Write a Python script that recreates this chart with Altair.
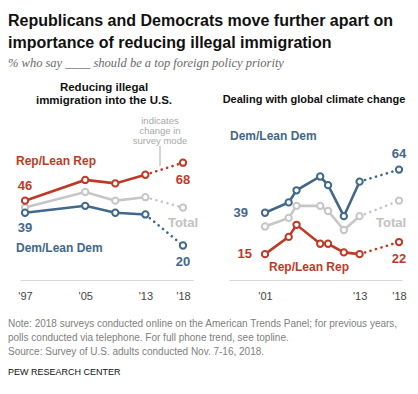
import altair as alt
import pandas as pd

# ---------------- data ----------------
imm_years = [1997, 2005, 2009, 2013, 2018]
imm_rep = [46, 58, 56, 61, 68]
imm_total = [42, 51, 46, 48, 42]
imm_dem = [39, 43, 39, 38, 20]

clim_years = [2001, 2004, 2005, 2008, 2009, 2011, 2013, 2018]
clim_rep = [15, 25, 32, 21, 21, 16, 15, 22]
clim_total = [31, 36, 43, 43, 40, 29, 37, 46]
clim_dem = [39, 45, 52, 60, 55, 37, 57, 64]

series_names = ["Total", "Dem", "Rep"]
series_colors = ["#C6C6C6", "#41688A", "#BF3A26"]
series_labels = ["Total", "Dem/Lean Dem", "Rep/Lean Rep"]

imm_ticks = [1997, 2005, 2013, 2018]
clim_ticks = [2001, 2013, 2018]

title_text = "Republicans and Democrats move further apart on\nimportance of reducing illegal immigration"
subtitle_text = "% who say ____ should be a top foreign policy priority"
left_title = "Reducing illegal\nimmigration into the U.S."
right_title = "Dealing with global climate change"
mode_note = "indicates\nchange in\nsurvey mode"
note_text = ("Note: 2018 surveys conducted online on the American Trends Panel; for previous years,\n"
             "polls conducted via telephone. For full phone trend, see topline.\n"
             "Source: Survey of U.S. adults conducted Nov. 7-16, 2018.")
source_label = "PEW RESEARCH CENTER"

FONT = "Liberation Sans"
W, H = 173, 138
RED, BLUE, GREY = series_colors[2], series_colors[1], series_colors[0]


def long_df(years, total, dem, rep):
    rows = []
    for name, vals in zip(series_names, [total, dem, rep]):
        for yr, v in zip(years, vals):
            rows.append({"year": yr, "series": name, "value": v})
    return pd.DataFrame(rows)


one = pd.DataFrame({"k": [0]})


def free_text(text, x, y, size, color="#222", weight="normal", align="left",
              font=FONT, style="normal", line_height=None, baseline="alphabetic"):
    kw = dict(text=text, align=align, baseline=baseline, fontSize=size, font=font,
              fontWeight=weight, fontStyle=style, color=color, lineBreak="\n")
    if line_height:
        kw["lineHeight"] = line_height
    return alt.Chart(one).mark_text(**kw).encode(x=alt.value(x), y=alt.value(y))


def panel(df, domain, ticks):
    cscale = alt.Scale(domain=series_names, range=series_colors)
    x = alt.X("year:Q", scale=alt.Scale(domain=domain, nice=False, zero=False),
              axis=alt.Axis(values=ticks, labelExpr="\"'\" + slice(toString(datum.value), 2)",
                            grid=False, ticks=False, tickSize=0, domainColor="#d6d6d6",
                            labelColor="#444", labelFont=FONT, labelFontSize=11,
                            labelPadding=10, title=None, labelFlush=False))
    y = alt.Y("value:Q", scale=alt.Scale(domain=[0, 80]), axis=None)
    base = alt.Chart(df).encode(x=x, y=y)
    color = alt.Color("series:N", scale=cscale, legend=None)
    solid = base.transform_filter("datum.year <= 2013").mark_line(strokeWidth=2.6).encode(color=color)
    dotted = base.transform_filter("datum.year >= 2013").mark_line(
        strokeWidth=2.6, strokeDash=[0.1, 5.6], strokeCap="round").encode(color=color)
    pts = base.mark_point(shape="circle", filled=True, fill="white", size=40, strokeWidth=2,
                          opacity=1).encode(stroke=alt.Stroke("series:N", scale=cscale, legend=None))
    return base, [solid, dotted, pts]


def val_label(base, series, year, color, dx=0, dy=0, align="center", text=None):
    m = base.transform_filter(f"datum.series == '{series}' && datum.year == {year}").mark_text(
        dx=dx, dy=dy, align=align, baseline="middle", font=FONT, fontSize=13,
        fontWeight="bold", color=color)
    if text is None:
        return m.encode(text="value:Q")
    return m.encode(text=alt.value(text))


# ---------------- left panel ----------------
dfL = long_df(imm_years, imm_total, imm_dem, imm_rep)
baseL, layersL = panel(dfL, [1996.33, 2019.33], imm_ticks)
layersL += [
    val_label(baseL, "Rep", 1997, RED, dy=-15),
    val_label(baseL, "Dem", 1997, BLUE, dy=15),
    val_label(baseL, "Rep", 2018, RED, dy=17),
    val_label(baseL, "Dem", 2018, BLUE, dy=16),
    val_label(baseL, "Total", 2018, "#C2C2C2", dy=15, text=series_labels[0]),
    free_text(series_labels[2], -4, 23, 12, RED, "bold"),
    free_text(series_labels[1], -4, 110, 12, BLUE, "bold"),
    free_text(left_title, 84, -51, 11.5, "#111", "bold", align="center", line_height=12.5),
    free_text(mode_note, 140, -18, 9.5, "#A8A8A8", align="center", line_height=10),
    alt.Chart(one).mark_rule(color="#A8A8A8", strokeWidth=1).encode(
        x=alt.value(140), y=alt.value(4), y2=alt.value(24)),
    free_text(title_text, -12, -116, 16, "#111", "bold", line_height=22),
    free_text(subtitle_text, -12, -75, 12.5, "#6a6a6a", font="Liberation Serif", style="italic"),
    free_text(note_text, -12, 185, 10, "#808080", line_height=14),
    free_text(source_label, -12, 233, 9, "#111"),
]
left = alt.layer(*layersL).properties(width=W, height=H)

# ---------------- right panel ----------------
dfR = long_df(clim_years, clim_total, clim_dem, clim_rep)
baseR, layersR = panel(dfR, [1996.43, 2018.38], clim_ticks)
layersR += [
    val_label(baseR, "Dem", 2001, BLUE, dx=-17, align="right"),
    val_label(baseR, "Rep", 2001, RED, dx=-13, align="right"),
    val_label(baseR, "Dem", 2018, BLUE, dy=-16),
    val_label(baseR, "Rep", 2018, RED, dy=17),
    val_label(baseR, "Total", 2018, "#C2C2C2", dx=-8, dy=22, text=series_labels[0]),
    free_text(series_labels[1], 1, -2, 12, BLUE, "bold"),
    free_text(series_labels[2], 40, 129, 12, RED, "bold"),
    free_text(right_title, 85, -39, 11, "#111", "bold", align="center"),
]
right = alt.layer(*layersR).properties(width=W, height=H)

chart = alt.hconcat(left, right, spacing=36, bounds="flush").properties(
    padding={"left": 0, "top": 5, "right": 0, "bottom": 0},
    background="white",
).configure_view(stroke=None)

chart.save("out.html", embed_options={"renderer": "svg", "actions": False})
